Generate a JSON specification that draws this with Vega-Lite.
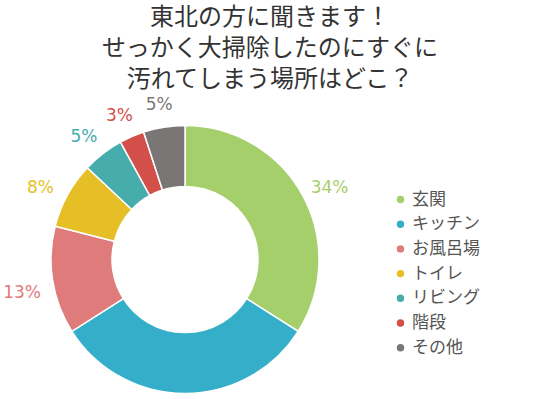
{
  "$schema": "https://vega.github.io/schema/vega-lite/v6.json",
  "autosize": "none",
  "width": 370,
  "height": 279,
  "padding": {"left": 0, "top": 120, "right": 170, "bottom": 0},
  "background": "white",
  "title": {
    "text": ["東北の方に聞きます！", "せっかく大掃除したのにすぐに", "汚れてしまう場所はどこ？"],
    "font": "Noto Sans CJK JP",
    "fontSize": 24,
    "fontWeight": "normal",
    "color": "#333333",
    "lineHeight": 31,
    "anchor": "middle",
    "dx": 85,
    "offset": 4
  },
  "data": {
    "values": [
      {"cat": "玄関", "value": 34, "order": 1, "label": "34%"},
      {"cat": "キッチン", "value": 32, "order": 2, "label": ""},
      {"cat": "お風呂場", "value": 13, "order": 3, "label": "13%"},
      {"cat": "トイレ", "value": 8, "order": 4, "label": "8%"},
      {"cat": "リビング", "value": 5, "order": 5, "label": "5%"},
      {"cat": "階段", "value": 3, "order": 6, "label": "3%"},
      {"cat": "その他", "value": 5, "order": 7, "label": "5%"}
    ]
  },
  "encoding": {
    "theta": {"field": "value", "type": "quantitative", "stack": true},
    "order": {"field": "order", "type": "quantitative"},
    "color": {
      "field": "cat",
      "type": "nominal",
      "scale": {
        "domain": ["玄関", "キッチン", "お風呂場", "トイレ", "リビング", "階段", "その他"],
        "range": ["#a5cf6a", "#35aec9", "#e07b7b", "#e6bf26", "#46acac", "#d24f4a", "#7b7676"]
      },
      "legend": {
        "title": null,
        "orient": "none",
        "legendX": 392,
        "legendY": 71,
        "symbolType": "circle",
        "symbolSize": 80,
        "labelFont": "Noto Sans CJK JP",
        "labelFontSize": 17,
        "labelColor": "#555555",
        "labelOffset": 3,
        "rowPadding": 6.7
      }
    }
  },
  "layer": [
    {
      "mark": {"type": "arc", "outerRadius": 134, "innerRadius": 73, "stroke": "white", "strokeWidth": 1.5}
    },
    {
      "mark": {"type": "text", "radius": 165, "font": "DejaVu Sans", "fontSize": 17, "baseline": "middle", "align": "center", "dy": 8},
      "encoding": {"text": {"field": "label"}}
    }
  ]
}
